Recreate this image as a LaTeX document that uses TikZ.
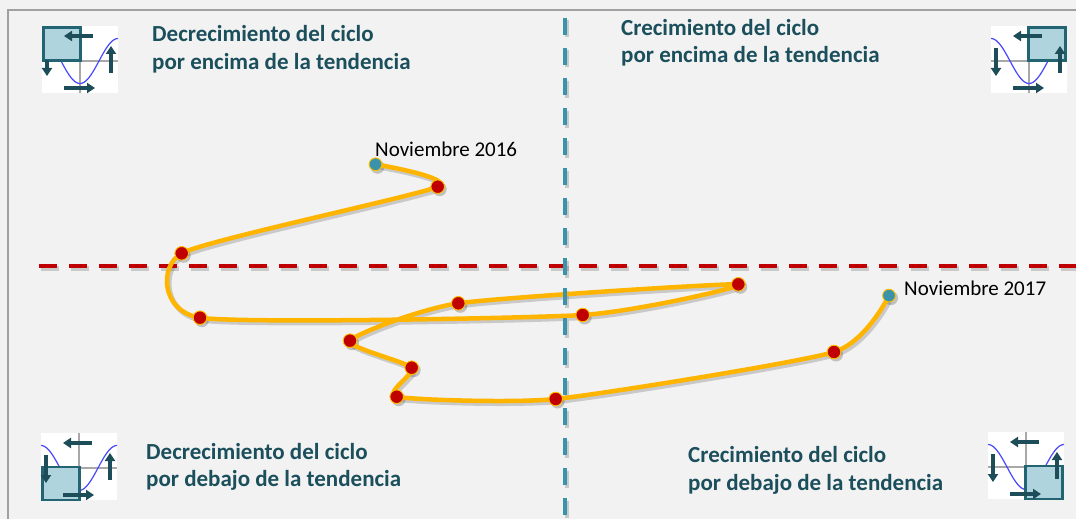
\documentclass[tikz,border=0pt]{standalone}
\usepackage{fontspec}
\setmainfont{Carlito}
\usetikzlibrary{arrows.meta}
\definecolor{bgc}{HTML}{F2F2F2}
\definecolor{framec}{HTML}{A0A0A0}
\definecolor{titlec}{HTML}{1B4F5C}
\definecolor{sqfill}{HTML}{AFD4DD}
\definecolor{sqborder}{HTML}{236473}
\definecolor{arrowc}{HTML}{1D4D58}
\definecolor{axisc}{HTML}{A8A8A8}
\definecolor{wavec}{HTML}{4848FF}
\definecolor{redc}{HTML}{C00000}
\definecolor{tealc}{HTML}{3A93AA}
\definecolor{curvec}{HTML}{FFB500}
\definecolor{dotborder}{HTML}{FFC000}
\definecolor{shadowc}{HTML}{505050}
\tikzset{
  titletxt/.style={anchor=base west, inner sep=0pt, text=titlec, font=\fontsize{23}{27}\selectfont\bfseries},
  labeltxt/.style={anchor=base west, inner sep=0pt, text=black, font=\fontsize{21}{24}\selectfont},
  iconarrow/.style={draw=arrowc, line width=3.2, -{Triangle[length=8pt,width=10pt]}},
  hdash/.style={draw=redc, line width=4.5, dash pattern=on 18pt off 12pt},
  vdash/.style={draw=tealc, line width=4.5, dash pattern=on 17pt off 13pt},
  cyc/.style={draw=curvec, line width=4.5, line cap=round, line join=round},
  reddot/.style={fill=redc, draw=dotborder, line width=0.9},
  tealdot/.style={fill=tealc, draw=dotborder, line width=0.9},
}
\newcommand\qicon[5]{%
  \begin{scope}[shift={(#1,#2)}]
    \fill[white] (0,0) rectangle (76,67);
    \draw[axisc, line width=1.3] (38,0) -- (38,67);
    \draw[axisc, line width=1.3] (0,35) -- (76,35);
    \draw[wavec, line width=1.2, domain=0:76, samples=60, smooth] plot (\x, {35 - 22.5*cos(\x/76*360)});
    \draw[sqborder, fill=sqfill, line width=2.5] (#3,#4) rectangle ++(37,33);
    \draw[iconarrow] (51,10) -- (22,10);
    \draw[iconarrow] (22,62) -- (53,62);
    \draw[iconarrow] (5,#5) -- (5,50);
    \draw[iconarrow] (69,47) -- (69,20);
  \end{scope}}
\begin{document}
\begin{tikzpicture}[x=1pt,y=-1pt]
\useasboundingbox (0,0) rectangle (1076,519);
\fill[bgc] (0,0) rectangle (1076,519);
\draw[framec, line width=1.5] (8,519) -- (8,10) -- (1076,10);

% icons
\qicon{42}{26}{1.5}{1.5}{34}
\qicon{991}{26}{37.5}{1.5}{22}
\qicon{41}{433}{1.5}{34}{22}
\qicon{988}{432}{37.5}{34}{22}

% titles
\node[titletxt] (tla) at (152,42) {Decrecimiento del ciclo};
\node[titletxt] (tlb) at (152,69.5) {por encima de la tendencia};
\node[titletxt] (tra) at (621,35.5) {Crecimiento del ciclo};
\node[titletxt] (trb) at (621,63) {por encima de la tendencia};
\node[titletxt] (bla) at (146,459) {Decrecimiento del ciclo};
\node[titletxt] (blb) at (146,486.5) {por debajo de la tendencia};
\node[titletxt] (bra) at (688,462.5) {Crecimiento del ciclo};
\node[titletxt] (brb) at (688,490) {por debajo de la tendencia};

% axes coordinates
\coordinate (hl) at (39,266);
\coordinate (hr) at (1080,266);
\coordinate (vt) at (565,18);
\coordinate (vb) at (565,525);

% curve points
\coordinate (p1) at (375.5,164.3);
\coordinate (p2) at (437.7,186.7);
\coordinate (p3) at (181.7,253.3);
\coordinate (p4) at (200,317.7);
\coordinate (p5) at (582.7,315);
\coordinate (p6) at (738.3,284.3);
\coordinate (p7) at (458.3,303.3);
\coordinate (p8) at (350,340.7);
\coordinate (p9) at (411.7,367.7);
\coordinate (p10) at (396.7,396.7);
\coordinate (p11) at (555.7,399);
\coordinate (p12) at (834,352);
\coordinate (p13) at (889,295.6);

% shadows
\begin{scope}[transform canvas={xshift=2pt,yshift=-2.5pt}]
  \draw[hdash, draw=shadowc, opacity=0.25] (hl) -- (hr);
  \draw[cyc, draw=shadowc, opacity=0.25, line width=5] plot[smooth, tension=0.35] coordinates {(p1) (p2) (p3) (p4) (p5) (p6) (p7) (p8) (p9) (p10) (p11) (p12) (p13)};
  \foreach \p in {p1,p2,p3,p4,p5,p6,p7,p8,p9,p10,p11,p12,p13}
    \fill[shadowc, opacity=0.3] (\p) circle (7);
  \draw[vdash, draw=shadowc, opacity=0.25] (vt) -- (vb);
\end{scope}

\draw[hdash] (hl) -- (hr);
\draw[cyc] plot[smooth, tension=0.35] coordinates {(p1) (p2) (p3) (p4) (p5) (p6) (p7) (p8) (p9) (p10) (p11) (p12) (p13)};
\foreach \p in {p2,p3,p4,p5,p6,p7,p8,p9,p10,p11,p12}
  \draw[reddot] (\p) circle (6.8);
\draw[tealdot] (p1) circle (6.4);
\draw[tealdot] (p13) circle (6.4);
\draw[vdash] (vt) -- (vb);

\node[labeltxt] (l16) at (375,156) {Noviembre 2016};
\node[labeltxt] (l17) at (904,295) {Noviembre 2017};
\end{tikzpicture}
\end{document}
